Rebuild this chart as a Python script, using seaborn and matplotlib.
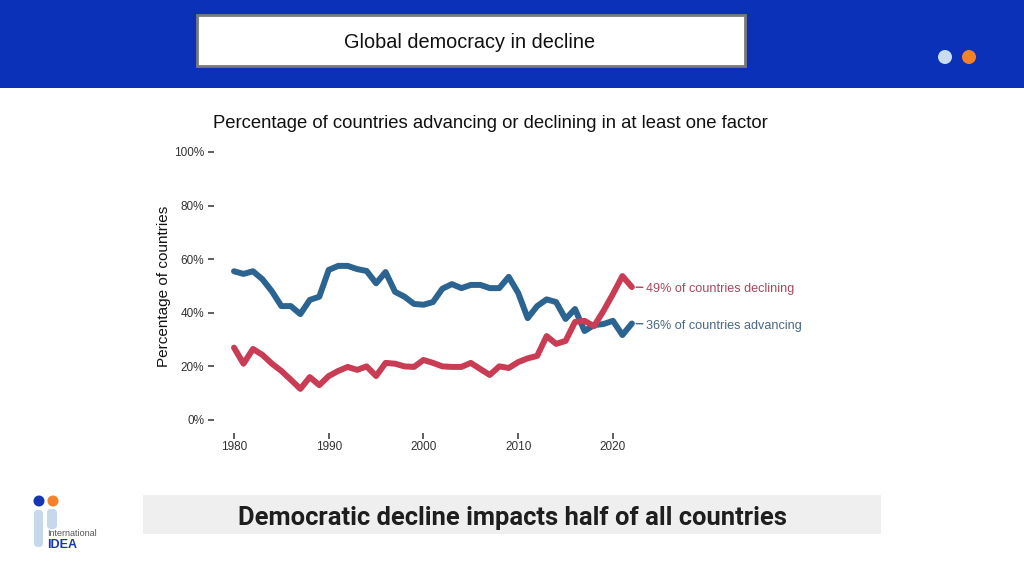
import matplotlib
matplotlib.use("Agg")
import matplotlib.pyplot as plt
import matplotlib.patches as mpatches
import pandas as pd
import seaborn as sns

# values (share of countries)
years = list(range(1980, 2023))
advancing = [55.5, 54.5, 55.5, 52.5, 48.0, 42.5, 42.5, 39.5, 44.8, 46.0,
             56.0, 57.5, 57.5, 56.3, 55.6, 51.0, 55.2, 47.8, 46.0, 43.3,
             43.0, 44.0, 49.0, 50.7, 49.2, 50.4, 50.4, 49.2, 49.2, 53.4,
             47.4, 38.0, 42.5, 45.0, 44.0, 37.7, 41.4, 33.2, 35.4, 35.8,
             37.0, 31.7, 36.0]
declining = [27.0, 21.0, 26.5, 24.3, 21.0, 18.3, 15.0, 11.6, 16.0, 13.0,
             16.4, 18.3, 19.8, 18.7, 20.0, 16.4, 21.3, 21.0, 20.0, 19.8,
             22.4, 21.3, 20.0, 19.8, 19.8, 21.3, 19.0, 16.8, 20.0, 19.4,
             21.6, 23.0, 23.9, 31.3, 28.4, 29.5, 36.6, 37.0, 35.0, 40.7,
             47.0, 53.7, 49.6]
series_names = ["Advancing", "Declining"]
end_labels = ["36% of countries advancing", "49% of countries declining"]
y_ticks = [0, 20, 40, 60, 80, 100]
x_ticks = [1980, 1990, 2000, 2010, 2020]

blue = "#2c6491"
red = "#c83c54"

df = pd.DataFrame({
    "year": years * 2,
    "share": [v / 100 for v in advancing + declining],
    "series": [series_names[0]] * len(years) + [series_names[1]] * len(years),
})

sns.set_style("white")
plt.rcParams["font.family"] = ["Liberation Sans", "DejaVu Sans"]

fig = plt.figure(figsize=(10.24, 5.76), dpi=100)

# slide background drawn in pixel coordinates
bg = fig.add_axes([0, 0, 1, 1])
bg.set_xlim(0, 1024)
bg.set_ylim(576, 0)
bg.axis("off")
bg.add_patch(mpatches.Rectangle((0, 0), 1024, 88, color="#0a31b8", lw=0))
bg.add_patch(mpatches.Rectangle((197, 15), 548, 51, facecolor="white",
                                edgecolor="#7a7a7a", lw=2))
bg.text(470, 43, "Global democracy in decline", ha="center", va="center",
        fontsize=14.3, color="#111111")
bg.add_patch(mpatches.Circle((945, 57), 7, color="#c8dcf2", lw=0))
bg.add_patch(mpatches.Circle((969, 57), 7, color="#f5822a", lw=0))

# chart title, centred on the slide content rather than the axes
bg.text(490, 124, "Percentage of countries advancing or declining in at least one factor",
        ha="center", va="center", fontsize=13.3, color="#111111")

# bottom banner
bg.add_patch(mpatches.Rectangle((143, 495), 738, 39, color="#efefef", lw=0))
bg.text(512, 518, "Democratic decline impacts half of all countries",
        ha="center", va="center", fontsize=18.4, fontweight="bold",
        family=["Roboto", "DejaVu Sans"], color="#1e1e1e")

# logo
bg.add_patch(mpatches.Circle((39, 501), 5.5, color="#1637b3", lw=0))
bg.add_patch(mpatches.Circle((53, 501), 5.5, color="#f5822a", lw=0))
bg.add_patch(mpatches.FancyBboxPatch((34, 510), 9, 37,
                                     boxstyle="round,pad=0,rounding_size=4",
                                     color="#c5d8ec", lw=0))
bg.add_patch(mpatches.FancyBboxPatch((47, 509), 10, 20,
                                     boxstyle="round,pad=0,rounding_size=4",
                                     color="#c5d8ec", lw=0))
bg.text(47, 533, "International", fontsize=6.5, color="#555555", va="center")
bg.text(47, 545, "IDEA", fontsize=9, fontweight="bold", color="#1637b3",
        va="center")

# chart
ax = fig.add_axes([0.2091, 0.2476, 0.4274, 0.5118])
sns.lineplot(data=df, x="year", y="share", hue="series",
             palette=[blue, red], linewidth=4.3, legend=False, ax=ax)
ax.set_xlim(1977.9, 2024.1)
ax.set_ylim(-0.05, 1.05)
ax.set_yticks([t / 100 for t in y_ticks])
ax.set_yticklabels([f"{t}%" for t in y_ticks])
ax.set_xticks(x_ticks)
ax.tick_params(axis="both", bottom=True, left=True, length=4, width=1.1,
               color="#333333", labelsize=8.5, labelcolor="#333333", pad=3)
ax.tick_params(axis="x", pad=1.5)
sns.despine(ax=ax, left=True, bottom=True)
ax.set_xlabel("")
ax.set_ylabel("Percentage of countries", fontsize=11, color="#111111",
              labelpad=2)
ax.patch.set_alpha(0)

# end labels with short leader lines
label_colors = ["#4c6885", "#a8485e"]
for values, text, col in zip([advancing, declining], end_labels, label_colors):
    y_end = values[-1] / 100
    ax.annotate(text, xy=(years[-1], y_end),
                xytext=(years[-1] + 1.5, y_end - 0.008), textcoords="data",
                fontsize=9.1, color=col, va="center",
                arrowprops=dict(arrowstyle="-", color=col, lw=1,
                                shrinkA=0, shrinkB=3),
                annotation_clip=False)

fig.savefig("out.png", dpi=100)
